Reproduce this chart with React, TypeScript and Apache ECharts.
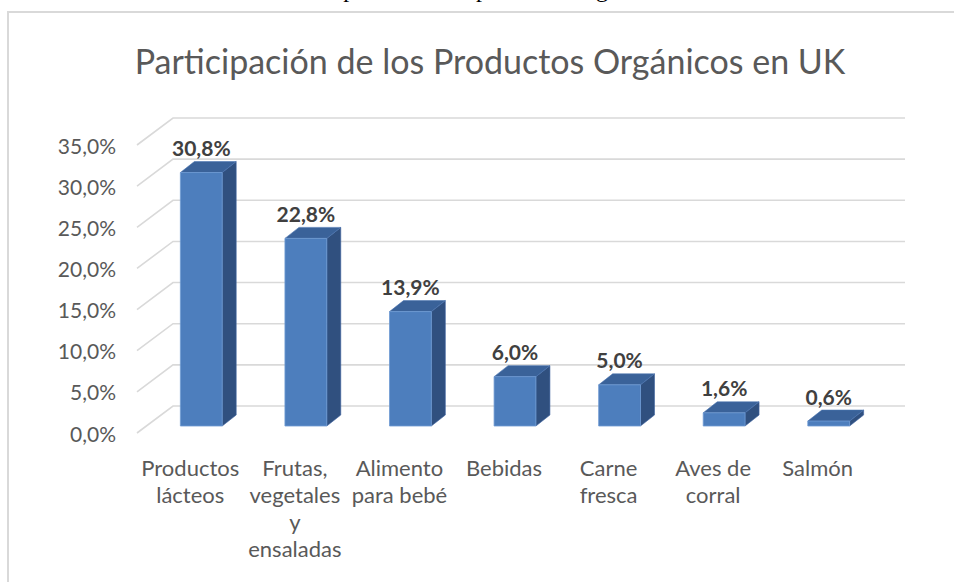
import React, { useEffect, useRef } from "react";
import * as echarts from "echarts";

const categories = [
  "Productos\nlácteos",
  "Frutas,\nvegetales\ny\nensaladas",
  "Alimento\npara bebé",
  "Bebidas",
  "Carne\nfresca",
  "Aves de\ncorral",
  "Salmón",
];
const values = [30.8, 22.8, 13.9, 6.0, 5.0, 1.6, 0.6];
const yTicks = [0, 5, 10, 15, 20, 25, 30, 35];
const chartTitle = "Participación de los Productos Orgánicos en UK";
const caption = "Ilustración 15: Participación de los productos orgánicos en el Reino Unido";

const fmt = (v: number) => v.toFixed(1).replace(".", ",") + "%";

export default function App() {
  const ref = useRef<HTMLDivElement>(null);
  useEffect(() => {
    document.body.style.margin = "0";
    if (!ref.current) return;
    const chart = echarts.init(ref.current, null, { renderer: "svg" });
    const FONT = "Lato";
    const depthX = 36, depthY = -27; // wall depth
    const offX = 11, offY = -7; // bar front face offset from front plane
    const barDX = 14, barDY = -11; // bar depth

    chart.setOption({
      animation: false,
      backgroundColor: "#ffffff",
      grid: { left: 138, right: 84, top: 145, bottom: 149, containLabel: false },
      xAxis: {
        type: "category",
        data: categories,
        axisLine: { show: false },
        axisTick: { show: false },
        splitLine: { show: false },
        axisLabel: {
          interval: 0,
          margin: 21,
          fontFamily: FONT,
          fontSize: 22,
          color: "#595959",
          lineHeight: 27,
          align: "center",
        },
      },
      yAxis: {
        type: "value",
        min: 0,
        max: 35,
        interval: 5,
        axisLine: { show: false },
        axisTick: { show: false },
        splitLine: { show: false },
        axisLabel: {
          margin: 22,
          fontFamily: FONT,
          fontSize: 21,
          color: "#595959",
          formatter: (v: number) => fmt(v),
        },
      },
      graphic: [
        {
          type: "rect",
          shape: { x: 8, y: 12, width: 1000, height: 700 },
          style: { fill: "none", stroke: "#d9d9d9", lineWidth: 2 },
          silent: true,
        },
        {
          type: "text",
          x: 493,
          y: -11,
          style: {
            text: caption,
            fontFamily: "Liberation Serif",
            fontSize: 24,
            fill: "#000000",
            align: "center",
            verticalAlign: "middle",
          },
        },
        {
          type: "text",
          x: 490,
          y: 60,
          style: {
            text: chartTitle,
            fontFamily: FONT,
            fontSize: 34,
            fill: "#595959",
            align: "center",
            verticalAlign: "middle",
          },
        },
      ],
      series: [
        {
          type: "custom",
          silent: true,
          data: yTicks.map((t) => [0, t]),
          renderItem: (params: any, api: any) => {
            const cs = params.coordSys;
            const y = api.coord([0, api.value(1)])[1];
            const x0 = cs.x - 1;
            const x1 = cs.x + cs.width;
            return {
              type: "polyline",
              shape: {
                points: [
                  [x0, y],
                  [x0 + depthX, y + depthY],
                  [x1 + depthX - 1, y + depthY],
                ],
              },
              style: { stroke: "#d9d9d9", lineWidth: 1.6, fill: "none" },
            };
          },
          z: 1,
        },
        {
          type: "custom",
          data: values.map((v, i) => [i, v]),
          renderItem: (params: any, api: any) => {
            const idx = api.value(0);
            const v = api.value(1);
            const topP = api.coord([idx, v]);
            const baseP = api.coord([idx, 0]);
            const bw = api.size([1, 0])[0] * 0.4;
            const cx = topP[0] + offX;
            const xl = cx - bw / 2;
            const xr = cx + bw / 2;
            const yt = topP[1] + offY;
            const yb = baseP[1] + offY;
            return {
              type: "group",
              children: [
                {
                  type: "polygon",
                  shape: {
                    points: [
                      [xr, yt],
                      [xr + barDX, yt + barDY],
                      [xr + barDX, yb + barDY],
                      [xr, yb],
                    ],
                  },
                  style: { fill: "#30507f", stroke: "#3d62a0", lineWidth: 0.6 },
                },
                {
                  type: "polygon",
                  shape: {
                    points: [
                      [xl, yt],
                      [xl + barDX, yt + barDY],
                      [xr + barDX, yt + barDY],
                      [xr, yt],
                    ],
                  },
                  style: { fill: "#3a6299", stroke: "#4a74b0", lineWidth: 0.6 },
                },
                {
                  type: "rect",
                  shape: { x: xl, y: yt, width: bw, height: yb - yt },
                  style: { fill: "#4d7ebd", stroke: "#6f9bd3", lineWidth: 0.8 },
                },
                {
                  type: "text",
                  x: cx,
                  y: yt - 25,
                  style: {
                    text: fmt(v),
                    fontFamily: FONT,
                    fontSize: 21,
                    fontWeight: "bold",
                    fill: "#404040",
                    align: "center",
                    verticalAlign: "middle",
                  },
                },
              ],
            };
          },
          z: 2,
        },
      ],
    });
    return () => chart.dispose();
  }, []);
  return <div ref={ref} style={{ width: 954, height: 582 }} />;
}
